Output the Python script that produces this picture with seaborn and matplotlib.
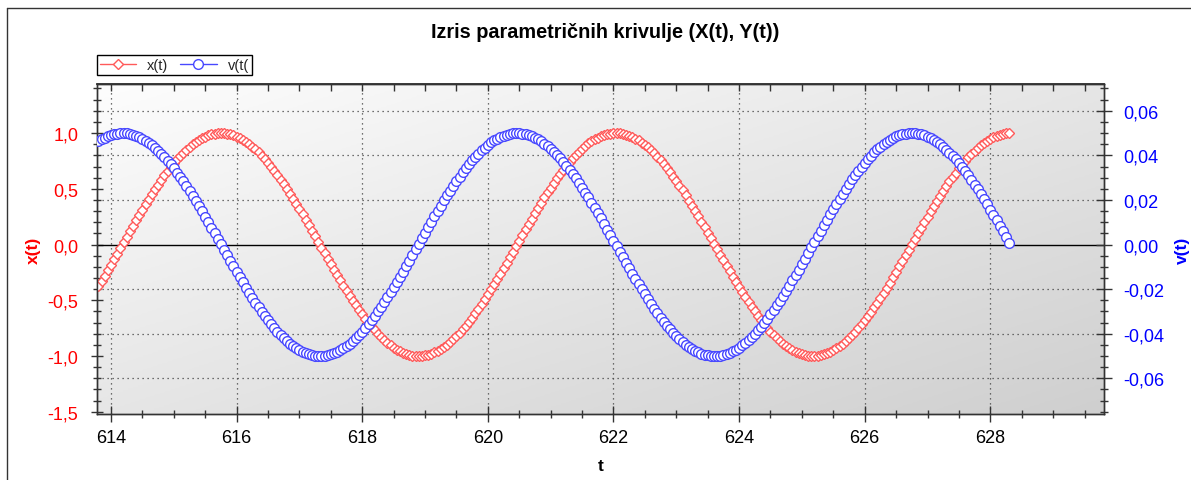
import numpy as np
import pandas as pd
import seaborn as sns
import matplotlib.pyplot as plt
from matplotlib.lines import Line2D
from matplotlib.ticker import MultipleLocator, FuncFormatter
from matplotlib.colors import LinearSegmentedColormap

sns.set_theme(style='white')
plt.rcParams['font.family'] = ['Liberation Sans', 'DejaVu Sans']

# ---------------- data ----------------
t = [
    613.80, 613.85, 613.90, 613.95,
    614.00, 614.05, 614.10, 614.15, 614.20, 614.25, 614.30, 614.35, 614.40, 614.45,
    614.50, 614.55, 614.60, 614.65, 614.70, 614.75, 614.80, 614.85, 614.90, 614.95,
    615.00, 615.05, 615.10, 615.15, 615.20, 615.25, 615.30, 615.35, 615.40, 615.45,
    615.50, 615.55, 615.60, 615.65, 615.70, 615.75, 615.80, 615.85, 615.90, 615.95,
    616.00, 616.05, 616.10, 616.15, 616.20, 616.25, 616.30, 616.35, 616.40, 616.45,
    616.50, 616.55, 616.60, 616.65, 616.70, 616.75, 616.80, 616.85, 616.90, 616.95,
    617.00, 617.05, 617.10, 617.15, 617.20, 617.25, 617.30, 617.35, 617.40, 617.45,
    617.50, 617.55, 617.60, 617.65, 617.70, 617.75, 617.80, 617.85, 617.90, 617.95,
    618.00, 618.05, 618.10, 618.15, 618.20, 618.25, 618.30, 618.35, 618.40, 618.45,
    618.50, 618.55, 618.60, 618.65, 618.70, 618.75, 618.80, 618.85, 618.90, 618.95,
    619.00, 619.05, 619.10, 619.15, 619.20, 619.25, 619.30, 619.35, 619.40, 619.45,
    619.50, 619.55, 619.60, 619.65, 619.70, 619.75, 619.80, 619.85, 619.90, 619.95,
    620.00, 620.05, 620.10, 620.15, 620.20, 620.25, 620.30, 620.35, 620.40, 620.45,
    620.50, 620.55, 620.60, 620.65, 620.70, 620.75, 620.80, 620.85, 620.90, 620.95,
    621.00, 621.05, 621.10, 621.15, 621.20, 621.25, 621.30, 621.35, 621.40, 621.45,
    621.50, 621.55, 621.60, 621.65, 621.70, 621.75, 621.80, 621.85, 621.90, 621.95,
    622.00, 622.05, 622.10, 622.15, 622.20, 622.25, 622.30, 622.35, 622.40, 622.45,
    622.50, 622.55, 622.60, 622.65, 622.70, 622.75, 622.80, 622.85, 622.90, 622.95,
    623.00, 623.05, 623.10, 623.15, 623.20, 623.25, 623.30, 623.35, 623.40, 623.45,
    623.50, 623.55, 623.60, 623.65, 623.70, 623.75, 623.80, 623.85, 623.90, 623.95,
    624.00, 624.05, 624.10, 624.15, 624.20, 624.25, 624.30, 624.35, 624.40, 624.45,
    624.50, 624.55, 624.60, 624.65, 624.70, 624.75, 624.80, 624.85, 624.90, 624.95,
    625.00, 625.05, 625.10, 625.15, 625.20, 625.25, 625.30, 625.35, 625.40, 625.45,
    625.50, 625.55, 625.60, 625.65, 625.70, 625.75, 625.80, 625.85, 625.90, 625.95,
    626.00, 626.05, 626.10, 626.15, 626.20, 626.25, 626.30, 626.35, 626.40, 626.45,
    626.50, 626.55, 626.60, 626.65, 626.70, 626.75, 626.80, 626.85, 626.90, 626.95,
    627.00, 627.05, 627.10, 627.15, 627.20, 627.25, 627.30, 627.35, 627.40, 627.45,
    627.50, 627.55, 627.60, 627.65, 627.70, 627.75, 627.80, 627.85, 627.90, 627.95,
    628.00, 628.05, 628.10, 628.15, 628.20, 628.25, 628.30,
]

x_t = [
    -0.372, -0.325, -0.278, -0.229, -0.180, -0.131, -0.081, -0.031, 0.019, 0.069,
    0.118, 0.168, 0.217, 0.265, 0.313, 0.360, 0.407, 0.452, 0.496, 0.538,
    0.580, 0.620, 0.658, 0.695, 0.730, 0.763, 0.795, 0.824, 0.851, 0.877,
    0.899, 0.920, 0.939, 0.955, 0.968, 0.980, 0.988, 0.995, 0.999, 1.000,
    0.999, 0.995, 0.989, 0.980, 0.969, 0.956, 0.940, 0.922, 0.901, 0.879,
    0.854, 0.827, 0.797, 0.766, 0.733, 0.698, 0.662, 0.623, 0.583, 0.542,
    0.499, 0.456, 0.411, 0.364, 0.317, 0.270, 0.221, 0.172, 0.123, 0.073,
    0.023, -0.027, -0.077, -0.127, -0.176, -0.225, -0.274, -0.321, -0.368, -0.414,
    -0.459, -0.503, -0.546, -0.587, -0.626, -0.665, -0.701, -0.736, -0.769, -0.800,
    -0.829, -0.856, -0.881, -0.903, -0.924, -0.942, -0.957, -0.970, -0.981, -0.990,
    -0.996, -0.999, -1.000, -0.998, -0.994, -0.988, -0.979, -0.967, -0.953, -0.937,
    -0.919, -0.898, -0.875, -0.849, -0.822, -0.792, -0.761, -0.727, -0.692, -0.655,
    -0.617, -0.577, -0.535, -0.492, -0.448, -0.403, -0.357, -0.309, -0.261, -0.213,
    -0.164, -0.114, -0.064, -0.015, 0.035, 0.085, 0.135, 0.184, 0.233, 0.282,
    0.329, 0.376, 0.422, 0.467, 0.510, 0.553, 0.594, 0.633, 0.671, 0.707,
    0.742, 0.774, 0.805, 0.834, 0.860, 0.885, 0.907, 0.927, 0.944, 0.960,
    0.972, 0.983, 0.991, 0.996, 0.999,
    1.000, 0.998, 0.993, 0.986, 0.977, 0.965, 0.951, 0.934, 0.915, 0.894,
    0.871, 0.845, 0.817, 0.787, 0.755, 0.722, 0.686, 0.649, 0.610, 0.570,
    0.528, 0.485, 0.440, 0.395, 0.349, 0.301, 0.253, 0.205, 0.156, 0.106,
    0.056, 0.006, -0.044, -0.094, -0.143, -0.193, -0.241, -0.290, -0.337, -0.384,
    -0.429, -0.474, -0.517, -0.559, -0.600, -0.639, -0.677, -0.713, -0.747, -0.780,
    -0.810, -0.838, -0.864, -0.888, -0.910, -0.930, -0.947, -0.962, -0.974, -0.984,
    -0.992, -0.997, -1.000, -1.000, -0.997, -0.992, -0.985, -0.975, -0.963, -0.948,
    -0.931, -0.912, -0.890, -0.866, -0.840, -0.812, -0.782, -0.750, -0.716, -0.680,
    -0.642, -0.603, -0.563, -0.521, -0.477, -0.433, -0.387, -0.341, -0.293, -0.245,
    -0.196, -0.147, -0.098, -0.048, 0.002, 0.052, 0.102, 0.152, 0.201, 0.250,
    0.298, 0.345, 0.392, 0.437, 0.481, 0.525, 0.567, 0.607, 0.646, 0.683,
    0.719, 0.753, 0.785, 0.815, 0.843, 0.869, 0.892, 0.914, 0.933, 0.950,
    0.964, 0.976, 0.986, 0.993, 0.998, 1.000,
]

v_t = [
    0.0464, 0.0473, 0.0480, 0.0487, 0.0492, 0.0496, 0.0498, 0.0500, 0.0500, 0.0499,
    0.0497, 0.0493, 0.0488, 0.0482, 0.0475, 0.0466, 0.0457, 0.0446, 0.0434, 0.0421,
    0.0407, 0.0392, 0.0376, 0.0359, 0.0342, 0.0323, 0.0304, 0.0283, 0.0262, 0.0241,
    0.0218, 0.0196, 0.0172, 0.0149, 0.0125, 0.0100, 0.0076, 0.0051, 0.0026, 0.0001,
    -0.0024, -0.0049, -0.0074, -0.0098, -0.0123, -0.0147, -0.0170, -0.0194, -0.0217, -0.0239,
    -0.0260, -0.0281, -0.0302, -0.0321, -0.0340, -0.0358, -0.0375, -0.0391, -0.0406, -0.0420,
    -0.0433, -0.0445, -0.0456, -0.0466, -0.0474, -0.0482, -0.0488, -0.0493, -0.0496, -0.0499,
    -0.0500, -0.0500, -0.0499, -0.0496, -0.0492, -0.0487, -0.0481, -0.0474, -0.0465, -0.0455,
    -0.0444, -0.0432, -0.0419, -0.0405, -0.0390, -0.0374, -0.0357, -0.0339, -0.0320, -0.0300,
    -0.0280, -0.0259, -0.0237, -0.0215, -0.0192, -0.0169, -0.0145, -0.0121, -0.0096, -0.0072,
    -0.0047, -0.0022, 0.0003, 0.0028, 0.0053, 0.0078, 0.0102, 0.0127, 0.0151, 0.0174,
    0.0198, 0.0220, 0.0242, 0.0264, 0.0285, 0.0305, 0.0325, 0.0343, 0.0361, 0.0378,
    0.0394, 0.0408, 0.0422, 0.0435, 0.0447, 0.0458, 0.0467, 0.0475, 0.0483, 0.0489,
    0.0493, 0.0497, 0.0499, 0.0500, 0.0500, 0.0498, 0.0495, 0.0491, 0.0486, 0.0480,
    0.0472, 0.0463, 0.0453, 0.0442, 0.0430, 0.0417, 0.0402, 0.0387, 0.0371, 0.0354,
    0.0335, 0.0316, 0.0297, 0.0276, 0.0255, 0.0233, 0.0211, 0.0188, 0.0165, 0.0141,
    0.0117, 0.0092, 0.0067, 0.0043, 0.0018,
    -0.0007, -0.0032, -0.0057, -0.0082, -0.0107, -0.0131, -0.0155, -0.0178, -0.0201, -0.0224,
    -0.0246, -0.0268, -0.0288, -0.0308, -0.0328, -0.0346, -0.0364, -0.0380, -0.0396, -0.0411,
    -0.0425, -0.0437, -0.0449, -0.0459, -0.0469, -0.0477, -0.0484, -0.0489, -0.0494, -0.0497,
    -0.0499, -0.0500, -0.0500, -0.0498, -0.0495, -0.0491, -0.0485, -0.0479, -0.0471, -0.0462,
    -0.0452, -0.0440, -0.0428, -0.0414, -0.0400, -0.0384, -0.0368, -0.0351, -0.0332, -0.0313,
    -0.0293, -0.0273, -0.0251, -0.0230, -0.0207, -0.0184, -0.0161, -0.0137, -0.0112, -0.0088,
    -0.0063, -0.0038, -0.0013, 0.0012, 0.0037, 0.0061, 0.0086, 0.0111, 0.0135, 0.0159,
    0.0182, 0.0205, 0.0228, 0.0250, 0.0271, 0.0292, 0.0312, 0.0331, 0.0349, 0.0367,
    0.0383, 0.0399, 0.0413, 0.0427, 0.0439, 0.0451, 0.0461, 0.0470, 0.0478, 0.0485,
    0.0490, 0.0495, 0.0498, 0.0499, 0.0500, 0.0499, 0.0497, 0.0494, 0.0490, 0.0484,
    0.0477, 0.0469, 0.0460, 0.0450, 0.0438, 0.0426, 0.0412, 0.0397, 0.0382, 0.0365,
    0.0348, 0.0329, 0.0310, 0.0290, 0.0269, 0.0248, 0.0226, 0.0203, 0.0180, 0.0157,
    0.0133, 0.0108, 0.0084, 0.0059, 0.0034, 0.0009,
]

series_labels = ['x(t)', 'v(t(']
title = 'Izris parametričnih krivulje (X(t), Y(t))'

RED_MK = '#ff5a5a'
BLUE_MK = '#4848ff'

df = pd.DataFrame({'t': t, 'x': x_t, 'v': v_t})

# ---------------- figure ----------------
W, H = 1191, 481
fig = plt.figure(figsize=(W / 100, H / 100), dpi=100)
ax = fig.add_axes([97 / W, 1 - 415 / H, 1007 / W, 330 / H])
ax2 = ax.twinx()

# grey gradient background (light top-left -> darker bottom-right)
bg_cmap = LinearSegmentedColormap.from_list('bg', ['#fdfdfd', '#cfcfcf'])
g = (np.linspace(0, 1, 200)[:, None] + np.linspace(0, 1, 400)[None, :]) / 2
ax.imshow(g, cmap=bg_cmap, extent=(0, 1, 0, 1), transform=ax.transAxes,
          aspect='auto', zorder=-10, interpolation='bilinear')

XLIM = (613.777, 629.81)
YLIM = (-1.52, 1.44)
Y2LIM = (-0.0760, 0.0720)

# dotted grid: vertical at t majors, horizontal at right-axis majors
for xv in range(614, 630, 2):
    ax.axvline(xv, color='#444444', lw=0.9, ls=(0, (1, 3)), zorder=0)
fac = (YLIM[1] - YLIM[0]) / (Y2LIM[1] - Y2LIM[0])
for rv in [-0.06, -0.04, -0.02, 0.02, 0.04, 0.06]:
    ax.axhline(rv * fac, color='#444444', lw=0.9, ls=(0, (1, 3)), zorder=0)
ax.axhline(0, color='black', lw=1, zorder=1)

sns.lineplot(data=df, x='t', y='x', ax=ax, color=RED_MK, lw=1,
             marker='D', markersize=5.2, markerfacecolor='white',
             markeredgecolor=RED_MK, markeredgewidth=1, legend=False, zorder=3)
sns.lineplot(data=df, x='t', y='v', ax=ax2, color=BLUE_MK, lw=1,
             marker='o', markersize=7, markerfacecolor='white',
             markeredgecolor=BLUE_MK, markeredgewidth=1, legend=False, zorder=3)

ax.set_xlim(*XLIM)
ax.set_ylim(*YLIM)
ax2.set_ylim(*Y2LIM)


def fmt1(v, pos):
    if abs(v) < 1e-9:
        v = 0.0
    return f'{v:.1f}'.replace('.', ',')


def fmt2(v, pos):
    if abs(v) < 1e-9:
        v = 0.0
    return f'{v:.2f}'.replace('.', ',')


ax.xaxis.set_major_locator(MultipleLocator(2))
ax.xaxis.set_minor_locator(MultipleLocator(0.5))
ax.yaxis.set_major_locator(MultipleLocator(0.5))
ax.yaxis.set_minor_locator(MultipleLocator(0.1))
ax.yaxis.set_major_formatter(FuncFormatter(fmt1))
ax2.yaxis.set_major_locator(MultipleLocator(0.02))
ax2.yaxis.set_minor_locator(MultipleLocator(0.005))
ax2.yaxis.set_major_formatter(FuncFormatter(fmt2))

ax.tick_params(axis='x', which='major', direction='inout', length=12, width=1,
               color='#333333', labelsize=13, labelcolor='black', pad=5, bottom=True)
ax.tick_params(axis='x', which='minor', direction='inout', length=6, width=1,
               color='#333333', bottom=True)
ax.tick_params(axis='y', which='major', direction='inout', length=9, width=1,
               color='#333333', labelsize=13, labelcolor='red', pad=9, left=True)
ax.tick_params(axis='y', which='minor', direction='inout', length=6, width=1,
               color='#333333', left=True)
ax2.tick_params(axis='y', which='major', direction='inout', length=11, width=1,
                color='#333333', labelsize=13, labelcolor='blue', pad=8, right=True)
ax2.tick_params(axis='y', which='minor', direction='inout', length=6, width=1,
                color='#333333', right=True)

top = ax.secondary_xaxis('top')
top.xaxis.set_major_locator(MultipleLocator(2))
top.xaxis.set_minor_locator(MultipleLocator(0.5))
top.tick_params(axis='x', which='both', direction='in', length=5, width=1,
                color='#333333', labeltop=False)

for a in (ax, ax2):
    for s in a.spines.values():
        s.set_color('#333333')
        s.set_linewidth(1)
        s.set_visible(True)
ax2.patch.set_visible(False)

ax.set_xlabel('t', fontsize=12.5, fontweight='bold', color='black')
ax.xaxis.set_label_coords(0.5, -0.132)
ax.set_ylabel('x(t)', fontsize=12.5, fontweight='bold', color='red')
ax.yaxis.set_label_coords(-0.0556, 0.5)
ax2.set_ylabel('v(t)', fontsize=12.5, fontweight='bold', color='blue')
ax2.yaxis.set_label_coords(1.0700, 0.5)

fig.text(605 / W, 1 - 33 / H, title, ha='center', va='center',
         fontsize=14.3, fontweight='bold', color='black')

handles = [
    Line2D([], [], color=RED_MK, lw=1, marker='D', markersize=5.2,
           markerfacecolor='white', markeredgecolor=RED_MK),
    Line2D([], [], color=BLUE_MK, lw=1, marker='o', markersize=7,
           markerfacecolor='white', markeredgecolor=BLUE_MK),
]
leg = fig.legend(handles, series_labels, loc='lower left',
                 bbox_to_anchor=(97 / W, 1 - 76 / H), ncol=2, frameon=True,
                 fancybox=False, edgecolor='black', framealpha=1, fontsize=10.5,
                 handlelength=2.5, handletextpad=0.75, columnspacing=0.8,
                 borderpad=0.2, borderaxespad=0)
leg.get_frame().set_linewidth(1)

# outer frame (top and left edges)
fig.add_artist(Line2D([7 / W, 1], [1 - 9 / H, 1 - 9 / H], transform=fig.transFigure,
                      color='#333333', lw=1))
fig.add_artist(Line2D([7 / W, 7 / W], [0, 1 - 9 / H], transform=fig.transFigure,
                      color='#333333', lw=1))

fig.savefig('out.png', dpi=100)
